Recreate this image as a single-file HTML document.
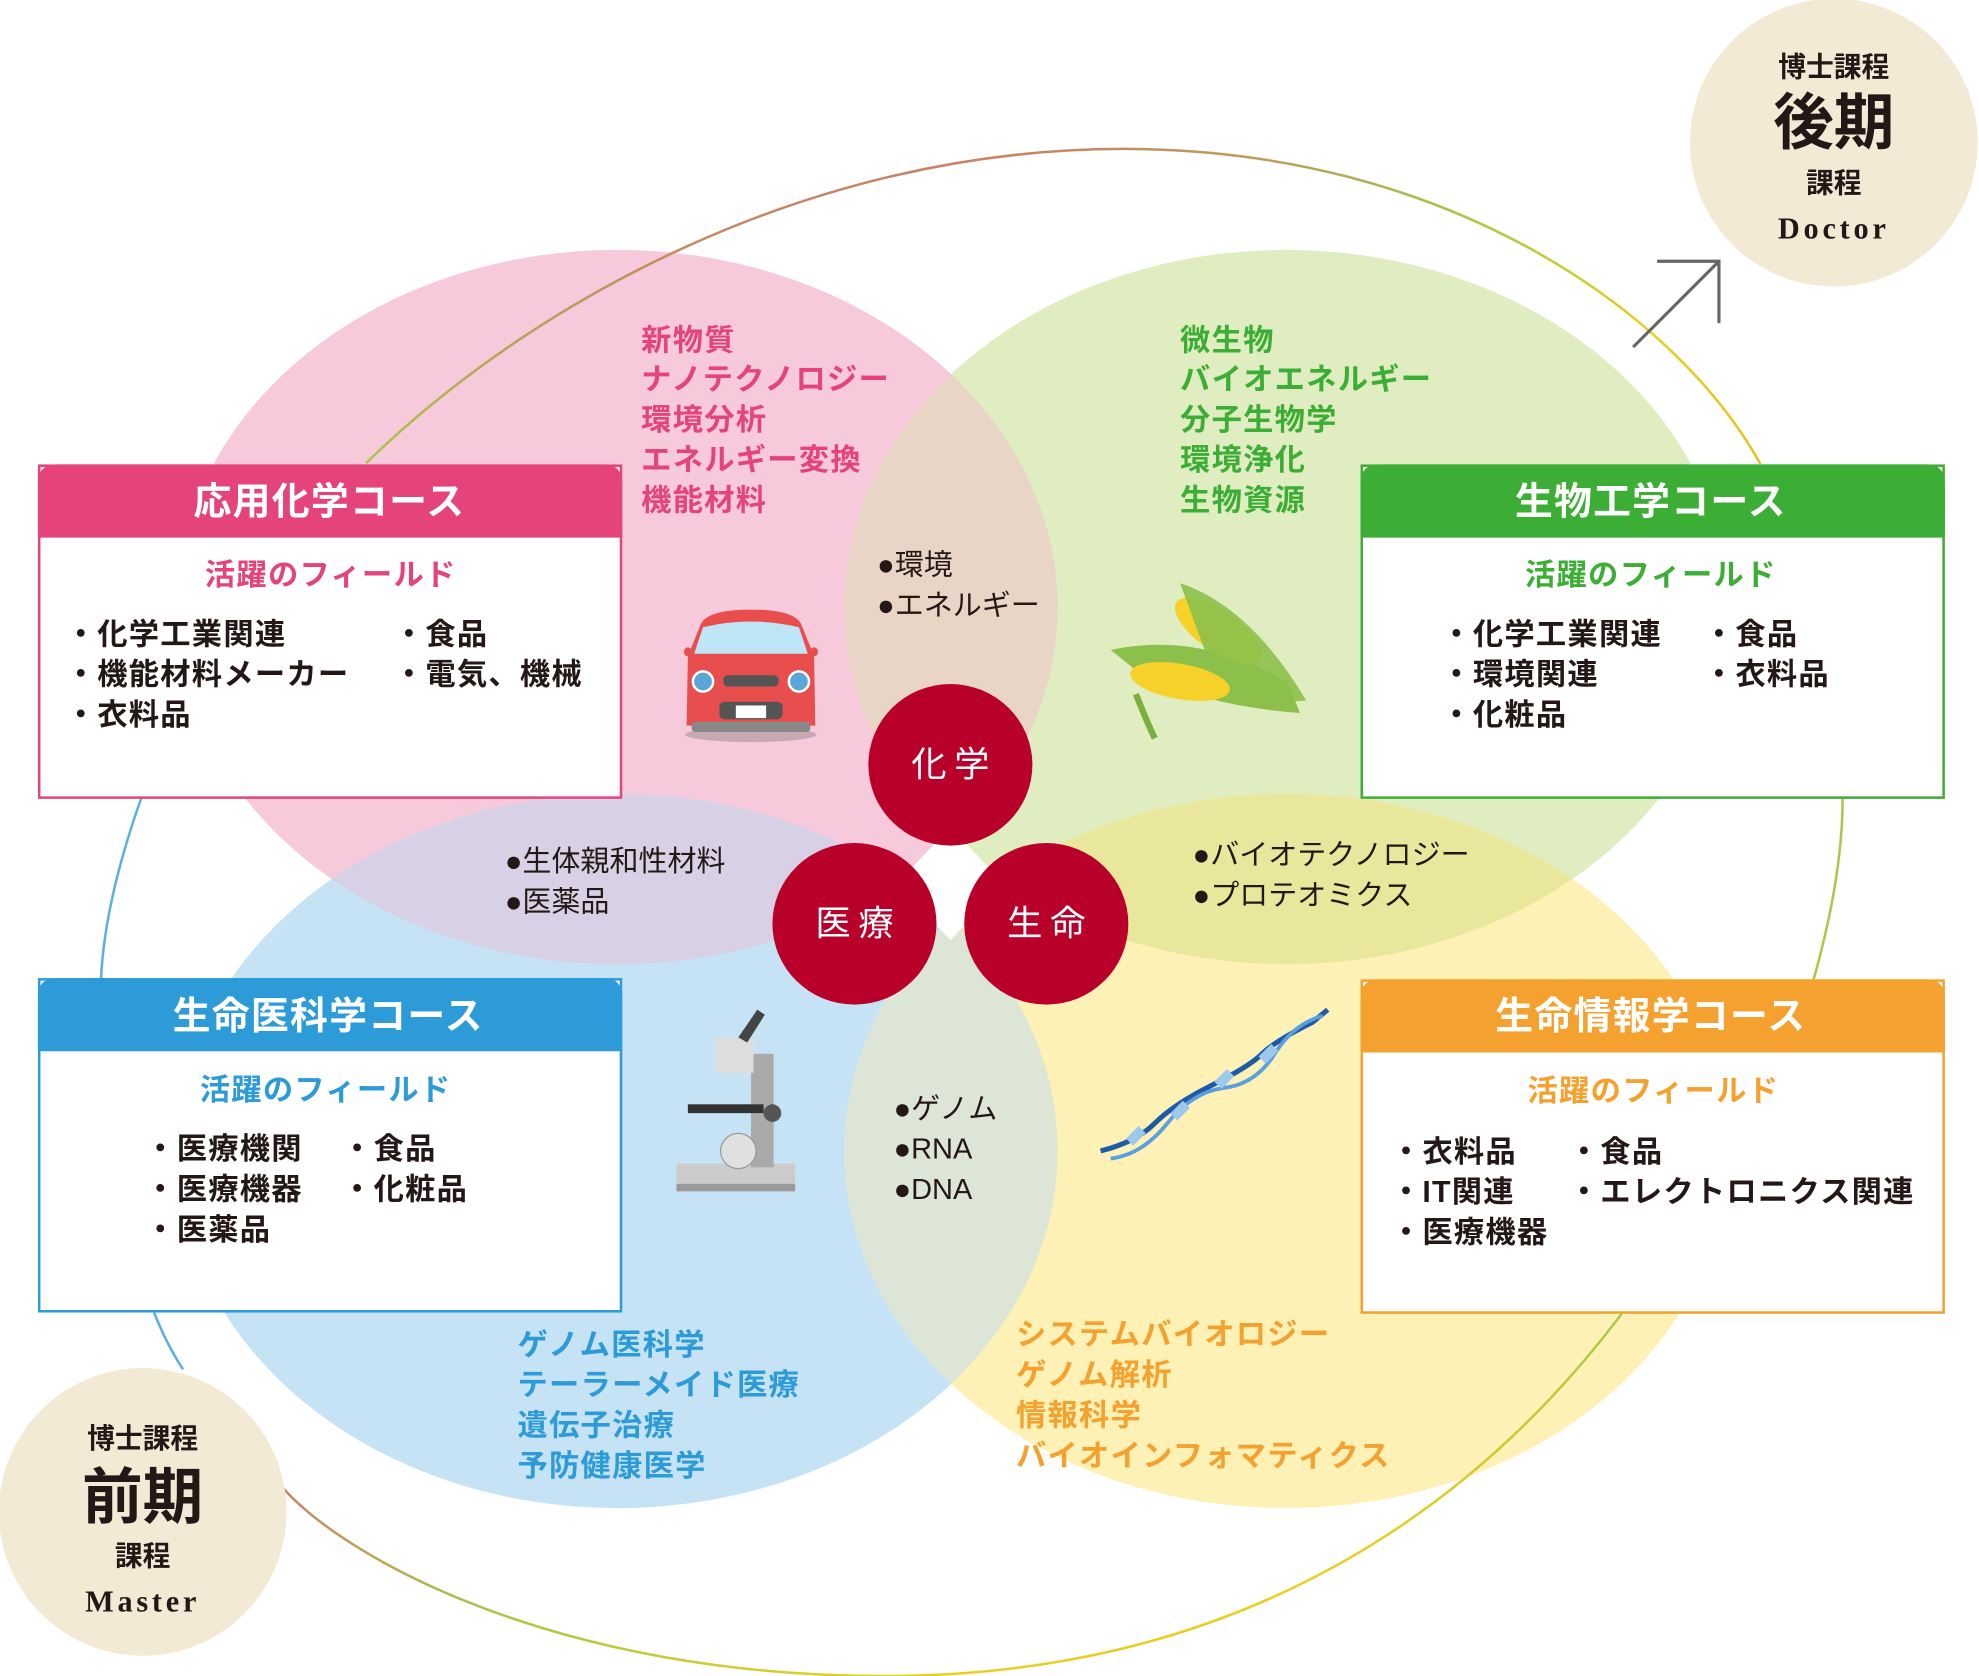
<!DOCTYPE html>
<html><head><meta charset="utf-8"><style>
html,body{margin:0;padding:0;background:#fff}
svg{display:block}
text{font-family:"Liberation Sans","Noto Sans CJK JP",sans-serif}
</style></head><body>
<svg width="1979" height="1676" viewBox="0 0 1568 1328" xmlns="http://www.w3.org/2000/svg">
<defs>
<linearGradient id="ring" x1="0" y1="0" x2="1" y2="1">
<stop offset="0" stop-color="#e5457e"/><stop offset="0.5" stop-color="#a8c84a"/><stop offset="0.75" stop-color="#e9d020"/><stop offset="1" stop-color="#e5c020"/>
</linearGradient>
<clipPath id="cP"><ellipse cx="489" cy="481" rx="349" ry="283"/></clipPath>
<clipPath id="cY"><ellipse cx="1019" cy="912" rx="350" ry="283"/></clipPath>
</defs>
<ellipse cx="489" cy="481" rx="349" ry="283" fill="#f6cadb"/>
<ellipse cx="1019" cy="481" rx="350" ry="283" fill="#dfedc0"/>
<ellipse cx="489" cy="912" rx="349" ry="283" fill="#c6e3f5"/>
<ellipse cx="1019" cy="912" rx="350" ry="283" fill="#fdf1b5"/>
<ellipse cx="1019" cy="481" rx="350" ry="283" fill="#e8d5c6" clip-path="url(#cP)"/>
<ellipse cx="489" cy="912" rx="349" ry="283" fill="#d8d1e5" clip-path="url(#cP)"/>
<ellipse cx="1019" cy="481" rx="350" ry="283" fill="#e9e79c" clip-path="url(#cY)"/>
<ellipse cx="489" cy="912" rx="349" ry="283" fill="#dde6d6" clip-path="url(#cY)"/>
<polygon points="753,655 795,700 753,745 711,700" fill="#fff"/>
<!-- big ring -->
<path d="M290,367 C420,240 640,118 890,118 C1150,118 1330,250 1395,368" fill="none" stroke="url(#ring)" stroke-width="2"/>
<path d="M1460,632 C1460,680 1450,730 1437,776" fill="none" stroke="#a8c84a" stroke-width="2"/>
<path d="M1285,1041 C1180,1180 1000,1328 700,1328 C450,1328 280,1240 225,1180" fill="none" stroke="url(#ring)" stroke-width="2"/>
<path d="M112,632 C95,680 82,730 80,776" fill="none" stroke="#5ab0e0" stroke-width="2"/>
<path d="M122,1040 C128,1055 135,1070 145,1085" fill="none" stroke="#5ab0e0" stroke-width="2"/>
<!-- arrow -->
<path d="M1294,275 L1362,207 M1313,207 L1362,207 L1362,256" fill="none" stroke="#666" stroke-width="2.5"/>
<!-- degree circles -->
<circle cx="1453" cy="113" r="114" fill="#f3ead6"/>
<text x="1453" y="53" text-anchor="middle" dominant-baseline="central" font-size="22" font-weight="bold" fill="#231815">博士課程</text>
<text x="1453" y="97" text-anchor="middle" dominant-baseline="central" font-size="48" font-weight="bold" fill="#231815">後期</text>
<text x="1453" y="145" text-anchor="middle" dominant-baseline="central" font-size="22" font-weight="bold" fill="#231815">課程</text>
<text x="1453" y="181" text-anchor="middle" dominant-baseline="central" font-size="24" font-weight="bold" letter-spacing="3" fill="#231815" style="font-family:'Liberation Serif',serif">Doctor</text>
<circle cx="113" cy="1198" r="114" fill="#f3ead6"/>
<text x="113" y="1140" text-anchor="middle" dominant-baseline="central" font-size="22" font-weight="bold" fill="#231815">博士課程</text>
<text x="113" y="1186" text-anchor="middle" dominant-baseline="central" font-size="48" font-weight="bold" fill="#231815">前期</text>
<text x="113" y="1233" text-anchor="middle" dominant-baseline="central" font-size="22" font-weight="bold" fill="#231815">課程</text>
<text x="113" y="1269" text-anchor="middle" dominant-baseline="central" font-size="24" font-weight="bold" letter-spacing="3" fill="#231815" style="font-family:'Liberation Serif',serif">Master</text>
<!-- boxes -->
<g font-size="24" font-weight="bold" letter-spacing="1">
<rect x="31" y="369" width="461" height="263" fill="#fff" stroke="#e5447a" stroke-width="2"/>
<path d="M30,426 V383 Q30,368 45,368 H478 Q493,368 493,383 V426 Z" fill="#e5447a"/>
<text x="261" y="398" text-anchor="middle" dominant-baseline="central" font-size="30" fill="#fff">応用化学コース</text>
<text x="262" y="456" text-anchor="middle" dominant-baseline="central" fill="#e5447a">活躍のフィールド</text>
<g fill="#231815"><text x="52" y="503" dominant-baseline="central">・化学工業関連</text><text x="52" y="535" dominant-baseline="central">・機能材料メーカー</text><text x="52" y="567" dominant-baseline="central">・衣料品</text><text x="312" y="503" dominant-baseline="central">・食品</text><text x="312" y="535" dominant-baseline="central">・電気、機械</text></g>

<rect x="1079" y="369" width="461" height="263" fill="#fff" stroke="#3dae35" stroke-width="2"/>
<path d="M1078,426 V383 Q1078,368 1093,368 H1526 Q1541,368 1541,383 V426 Z" fill="#3dae35"/>
<text x="1308" y="398" text-anchor="middle" dominant-baseline="central" font-size="30" fill="#fff">生物工学コース</text>
<text x="1308" y="456" text-anchor="middle" dominant-baseline="central" fill="#3dae35">活躍のフィールド</text>
<g fill="#231815"><text x="1142" y="503" dominant-baseline="central">・化学工業関連</text><text x="1142" y="535" dominant-baseline="central">・環境関連</text><text x="1142" y="567" dominant-baseline="central">・化粧品</text><text x="1350" y="503" dominant-baseline="central">・食品</text><text x="1350" y="535" dominant-baseline="central">・衣料品</text></g>

<rect x="31" y="776" width="461" height="263" fill="#fff" stroke="#2d9bd8" stroke-width="2"/>
<path d="M30,833 V790 Q30,775 45,775 H478 Q493,775 493,790 V833 Z" fill="#2d9bd8"/>
<text x="260" y="806" text-anchor="middle" dominant-baseline="central" font-size="30" fill="#fff">生命医科学コース</text>
<text x="258" y="864" text-anchor="middle" dominant-baseline="central" fill="#2d9bd8">活躍のフィールド</text>
<g fill="#231815"><text x="115" y="911" dominant-baseline="central">・医療機関</text><text x="115" y="943" dominant-baseline="central">・医療機器</text><text x="115" y="975" dominant-baseline="central">・医薬品</text><text x="271" y="911" dominant-baseline="central">・食品</text><text x="271" y="943" dominant-baseline="central">・化粧品</text></g>

<rect x="1079" y="777" width="461" height="263" fill="#fff" stroke="#f4a12f" stroke-width="2"/>
<path d="M1078,834 V791 Q1078,776 1093,776 H1526 Q1541,776 1541,791 V834 Z" fill="#f4a12f"/>
<text x="1308" y="806" text-anchor="middle" dominant-baseline="central" font-size="30" fill="#fff">生命情報学コース</text>
<text x="1310" y="865" text-anchor="middle" dominant-baseline="central" fill="#f4a12f">活躍のフィールド</text>
<g fill="#231815"><text x="1102" y="913" dominant-baseline="central">・衣料品</text><text x="1102" y="945" dominant-baseline="central">・IT関連</text><text x="1102" y="977" dominant-baseline="central">・医療機器</text><text x="1243" y="913" dominant-baseline="central">・食品</text><text x="1243" y="945" dominant-baseline="central">・エレクトロニクス関連</text></g>
</g>
<!-- outer lists -->
<g font-size="24" font-weight="bold" letter-spacing="1" dominant-baseline="central">
<g fill="#e5447a"><text x="508" y="270">新物質</text><text x="508" y="301">ナノテクノロジー</text><text x="508" y="333">環境分析</text><text x="508" y="365">エネルギー変換</text><text x="508" y="397">機能材料</text></g>
<g fill="#3dae35"><text x="935" y="270">微生物</text><text x="935" y="301">バイオエネルギー</text><text x="935" y="333">分子生物学</text><text x="935" y="365">環境浄化</text><text x="935" y="397">生物資源</text></g>
<g fill="#2d9bd8"><text x="410" y="1066">ゲノム医科学</text><text x="410" y="1098">テーラーメイド医療</text><text x="410" y="1130">遺伝子治療</text><text x="410" y="1162">予防健康医学</text></g>
<g fill="#f4a12f"><text x="805" y="1058">システムバイオロジー</text><text x="805" y="1090">ゲノム解析</text><text x="805" y="1122">情報科学</text><text x="805" y="1154">バイオインフォマティクス</text></g>
</g>
<g font-size="23" fill="#231815" dominant-baseline="central">
<text x="695" y="448">●環境</text><text x="695" y="480">●エネルギー</text>
<text x="400" y="683">●生体親和性材料</text><text x="400" y="715">●医薬品</text>
<text x="945" y="678">●バイオテクノロジー</text><text x="945" y="710">●プロテオミクス</text>
<text x="708" y="879">●ゲノム</text><text x="708" y="911">●RNA</text><text x="708" y="943">●DNA</text>
</g>
<!-- red circles -->
<g fill="#b8002b"><ellipse cx="753" cy="606" rx="65" ry="64"/><ellipse cx="677" cy="732" rx="65" ry="64"/><ellipse cx="829" cy="732" rx="65" ry="64"/></g>
<g fill="#fff" font-size="28" text-anchor="middle" dominant-baseline="central" letter-spacing="6">
<text x="756" y="606">化学</text><text x="680" y="732">医療</text><text x="832" y="732">生命</text></g>
<!-- car -->
<g>
<ellipse cx="595" cy="582" rx="52" ry="6" fill="#c9a8b4"/>
<path d="M555,495 Q560,483 595,483 Q630,483 635,495 L645,520 L646,575 L544,575 L545,520 Z" fill="#e94e4e"/>
<path d="M557,497 Q595,488 633,497 L640,518 L550,518 Z" fill="#bfe6f7"/>
<rect x="542" y="513" width="6" height="7" rx="3" fill="#e94e4e"/><rect x="642" y="513" width="6" height="7" rx="3" fill="#e94e4e"/>
<circle cx="557" cy="540" r="8" fill="#5aa7d6" stroke="#fff" stroke-width="2"/><circle cx="633" cy="540" r="8" fill="#5aa7d6" stroke="#fff" stroke-width="2"/>
<rect x="573" y="535" width="44" height="9" rx="4" fill="#555"/>
<rect x="570" y="556" width="50" height="14" rx="4" fill="#555"/><rect x="583" y="559" width="24" height="10" fill="#fff"/>
<rect x="548" y="572" width="94" height="8" rx="3" fill="#888"/>
</g>
<!-- corn -->
<g>
<path d="M880,515 Q950,500 1020,540 L1030,565 Q960,560 905,535 Z" fill="#8cc04a"/>
<ellipse cx="935" cy="540" rx="40" ry="14" fill="#f5d12a" transform="rotate(10 935 540)"/>
<ellipse cx="965" cy="500" rx="40" ry="16" fill="#f5d12a" transform="rotate(35 965 500)"/>
<path d="M935,462 Q990,480 1035,555 Q1000,560 960,530 Z" fill="#8cc04a" opacity="0.9"/>
<path d="M900,550 Q910,575 915,585" stroke="#7ab040" stroke-width="5" fill="none"/>
</g>
<!-- microscope -->
<g>
<rect x="536" y="922" width="94" height="20" fill="#ccc"/><rect x="536" y="938" width="94" height="6" fill="#999"/>
<rect x="595" y="835" width="18" height="90" fill="#aaa"/>
<rect x="567" y="822" width="30" height="28" fill="#ddd"/>
<path d="M585,822 L600,800 L606,804 L592,826 Z" fill="#444"/>
<rect x="545" y="875" width="60" height="7" fill="#333"/>
<circle cx="585" cy="912" r="14" fill="#e0e0e0" stroke="#999"/>
<circle cx="612" cy="882" r="7" fill="#555"/>
</g>
<!-- DNA -->
<g fill="none" stroke-width="4">
<path d="M872,912 Q900,905 915,890 T960,860 T1000,835 T1040,810 L1052,800" stroke="#1e5aa8"/>
<path d="M880,918 Q905,915 925,890 T970,862 T1010,835 T1048,805" stroke="#5aa0e0" stroke-width="3"/>
<path d="M895,905 L905,895 M930,885 L940,875 M965,860 L975,850 M1000,840 L1010,830" stroke="#9cc8ee" stroke-width="8"/>
</g>
</svg>
</body></html>
